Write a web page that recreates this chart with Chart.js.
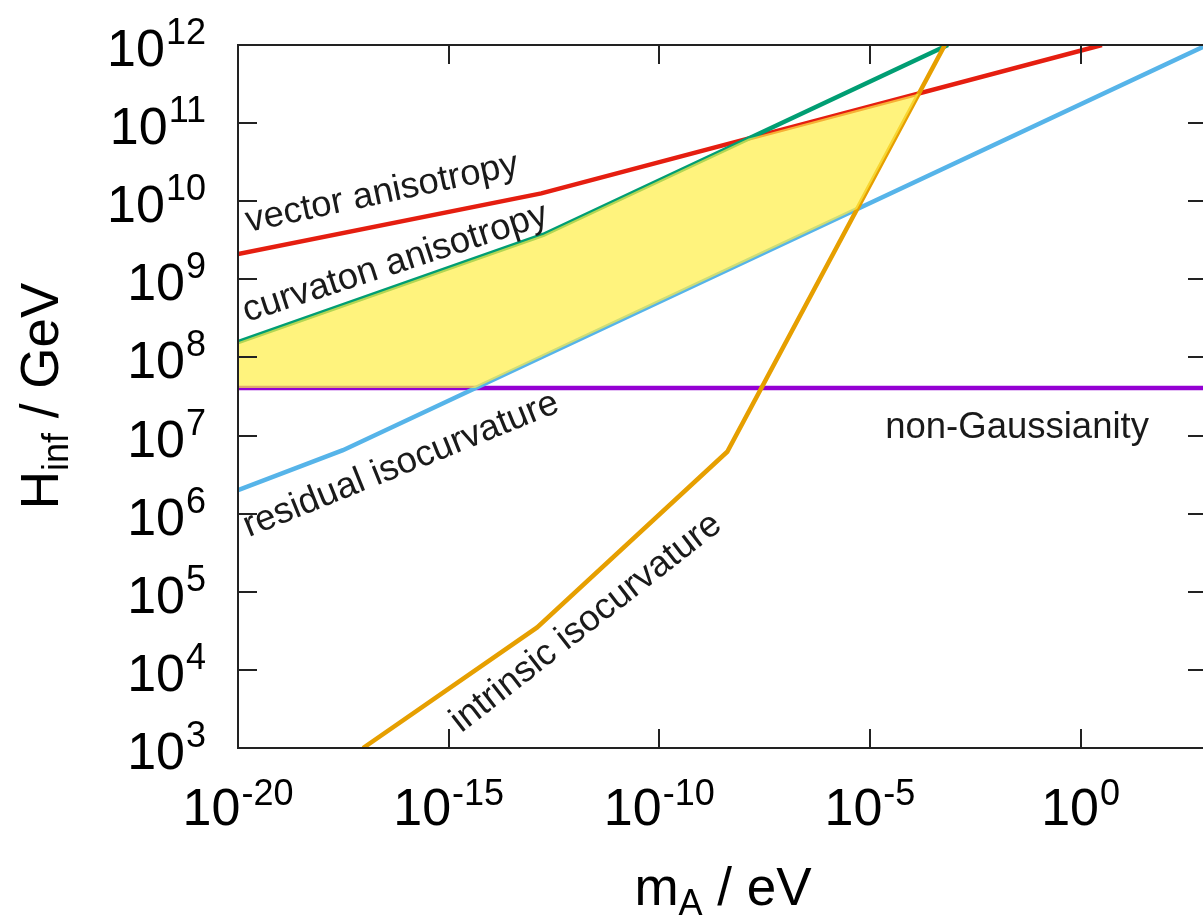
<!DOCTYPE html>
<html>
<head>
<meta charset="utf-8">
<script src="https://cdn.jsdelivr.net/npm/chart.js@4.4.1/dist/chart.umd.min.js"></script>
<style>
  html, body { margin: 0; padding: 0; background: #fff; overflow: hidden; }
  #wrap { width: 1207px; height: 916px; }
</style>
</head>
<body>
<div id="wrap"><canvas id="chart" width="1207" height="916"></canvas></div>
<script>
// values (m_A in eV, H_inf in GeV)
const vectorM = [1e-20, 1.58e-13, 3.2];
const vectorH = [2.1e9, 1.26e10, 1e12];
const curvatonM = [1e-20, 1.74e-13, 7.1e-4];
const curvatonH = [1.57e8, 3.7e9, 1e12];
const residualM = [1e-20, 3.1e-18, 1e3];
const residualH = [2.0e6, 6.5e6, 1e12];
const nonGaussM = [1e-20, 1e3];
const nonGaussH = [4.05e7, 4.05e7];
const intrinsicM = [9.3e-18, 1.26e-13, 4.1e-9, 6.0e-4];
const intrinsicH = [1e3, 3.5e4, 6.2e6, 1e12];

const xTickExps = [-20, -15, -10, -5, 0];
const yTickExps = [3, 4, 5, 6, 7, 8, 9, 10, 11, 12];

const colors = {
    vector: '#e51e10',
    curvaton: '#009e73',
    residual: '#56b4e9',
    nonGauss: '#9400d3',
    intrinsic: '#e69f00',
    fill: 'rgba(255, 238, 70, 0.7)',
    ink: '#1a1a1a',
};

const FONT = '"Liberation Sans", Arial, Helvetica, sans-serif';

function points(ms, hs) {
    return ms.map((m, i) => ({ x: m, y: hs[i] }));
}

// allowed region: below vector & curvaton, above residual, non-Gaussianity and intrinsic
function logPts(ms, hs) {
    return ms.map((m, i) => ({ lx: Math.log10(m), ly: Math.log10(hs[i]) }));
}

function valueAt(pts, lx, outside) {
    if (lx < pts[0].lx - 1e-12 || lx > pts[pts.length - 1].lx + 1e-12) return outside;
    for (let i = 1; i < pts.length; i++) {
        if (lx <= pts[i].lx + 1e-12) {
            const a = pts[i - 1], b = pts[i];
            return a.ly + (b.ly - a.ly) * (lx - a.lx) / (b.lx - a.lx);
        }
    }
    return outside;
}

function allowedRegion() {
    const upper = [logPts(vectorM, vectorH), logPts(curvatonM, curvatonH)];
    const lower = [logPts(residualM, residualH), logPts(nonGaussM, nonGaussH), logPts(intrinsicM, intrinsicH)];
    const fns = [
        ...upper.map((p) => (lx) => valueAt(p, lx, Infinity)),
        ...lower.map((p) => (lx) => valueAt(p, lx, -Infinity)),
    ];
    const U = (lx) => Math.min(...upper.map((p) => valueAt(p, lx, Infinity)));
    const L = (lx) => Math.max(...lower.map((p) => valueAt(p, lx, -Infinity)));

    const x0 = Math.log10(nonGaussM[0]);
    const x1 = Math.log10(nonGaussM[1]);
    let knots = [...upper, ...lower].flat().map((p) => p.lx).filter((v) => v >= x0 && v <= x1);
    knots = [...new Set(knots)].sort((a, b) => a - b);

    const xs = [...knots];
    for (let k = 1; k < knots.length; k++) {
        const a = knots[k - 1], b = knots[k];
        for (let i = 0; i < fns.length; i++) {
            for (let j = i + 1; j < fns.length; j++) {
                const da = fns[i](a) - fns[j](a);
                const db = fns[i](b) - fns[j](b);
                if (isFinite(da) && isFinite(db) && da * db < 0) {
                    xs.push(a + (b - a) * da / (da - db));
                }
            }
        }
    }
    xs.sort((a, b) => a - b);

    // contiguous run from the left edge while the band is open
    const keep = [];
    for (const lx of xs) {
        if (U(lx) >= L(lx) - 1e-9) keep.push(lx);
        else break;
    }
    const top = keep.map((lx) => ({ x: 10 ** lx, y: 10 ** U(lx) }));
    const bottom = keep.slice().reverse().map((lx) => ({ x: 10 ** lx, y: 10 ** L(lx) }));
    return top.concat(bottom);
}

function lineSet(label, ms, hs, color, order) {
    return {
        label,
        data: points(ms, hs),
        showLine: true,
        borderColor: color,
        borderWidth: 4.5,
        pointRadius: 0,
        fill: false,
        order,
    };
}

// text labels sit in data coordinates: [text, m, H, angle in degrees]
const curveLabels = [
    ['vector anisotropy', 1.74e-20, 4.04e9, -12],
    ['curvaton anisotropy', 1.62e-20, 2.84e8, -18],
    ['residual isocurvature', 1.8e-20, 5.0e5, -22],
    ['intrinsic isocurvature', 2.0e-15, 1.55e3, -38],
    ['non-Gaussianity', 2.3e-5, 9.3e6, 0],
];

function drawPow(ctx, exp, x, y, align, baseDy, supDy) {
    const big = `52px ${FONT}`;
    const small = `36px ${FONT}`;
    ctx.font = big;
    const w1 = ctx.measureText('10').width;
    ctx.font = small;
    const w2 = ctx.measureText(exp).width;
    const total = w1 + 1 + w2;
    const start = align === 'right' ? x - total : x - total / 2;
    ctx.textAlign = 'left';
    ctx.textBaseline = 'alphabetic';
    ctx.font = big;
    ctx.fillText('10', start, y + baseDy);
    ctx.font = small;
    ctx.fillText(exp, start + w1 + 1, y + supDy);
}

function drawSub(ctx, parts, cx, cy) {
    // parts: [text, size, dy]
    let total = 0;
    parts.forEach(([t, s]) => { ctx.font = `${s}px ${FONT}`; total += ctx.measureText(t).width; });
    let x = cx - total / 2;
    parts.forEach(([t, s, dy]) => {
        ctx.font = `${s}px ${FONT}`;
        ctx.fillText(t, x, cy + dy);
        x += ctx.measureText(t).width;
    });
}

const decorations = {
    id: 'decorations',
    afterDatasetsDraw(chart) {
        const { ctx, chartArea: a, scales: { x, y } } = chart;
        ctx.save();

        // in-plot labels
        ctx.fillStyle = colors.ink;
        ctx.font = `36.5px ${FONT}`;
        ctx.textAlign = 'left';
        ctx.textBaseline = 'alphabetic';
        curveLabels.forEach(([text, m, h, ang]) => {
            ctx.save();
            ctx.translate(x.getPixelForValue(m), y.getPixelForValue(h));
            ctx.rotate(ang * Math.PI / 180);
            ctx.fillText(text, 0, 0);
            ctx.restore();
        });

        // frame and inward ticks
        ctx.strokeStyle = '#222';
        ctx.lineWidth = 2;
        ctx.strokeRect(a.left, a.top, a.right - a.left, a.bottom - a.top);
        const tl = 19;
        ctx.beginPath();
        xTickExps.forEach((e) => {
            const px = Math.round(x.getPixelForValue(10 ** e));
            ctx.moveTo(px, a.bottom); ctx.lineTo(px, a.bottom - tl);
            ctx.moveTo(px, a.top); ctx.lineTo(px, a.top + tl);
        });
        yTickExps.forEach((e) => {
            const py = Math.round(y.getPixelForValue(10 ** e));
            ctx.moveTo(a.left, py); ctx.lineTo(a.left + tl, py);
            ctx.moveTo(a.right, py); ctx.lineTo(a.right - tl, py);
        });
        ctx.stroke();

        // tick labels
        ctx.fillStyle = '#000';
        yTickExps.forEach((e) => {
            drawPow(ctx, String(e), 206, y.getPixelForValue(10 ** e), 'right', 21, -1);
        });
        xTickExps.forEach((e) => {
            drawPow(ctx, String(e), x.getPixelForValue(10 ** e), 825, 'center', 0, -20);
        });

        // axis titles
        ctx.textAlign = 'left';
        drawSub(ctx, [['m', 53, 0], ['A', 36, 10], [' / eV', 53, 0]], 723, 905);
        ctx.save();
        ctx.translate(58, 396);
        ctx.rotate(-Math.PI / 2);
        drawSub(ctx, [['H', 53, 0], ['inf', 36, 10], [' / GeV', 53, 0]], 0, 0);
        ctx.restore();

        ctx.restore();
    },
};

new Chart(document.getElementById('chart'), {
    type: 'scatter',
    data: {
        datasets: [
            lineSet('non-Gaussianity', nonGaussM, nonGaussH, colors.nonGauss, 5),
            lineSet('vector anisotropy', vectorM, vectorH, colors.vector, 4),
            lineSet('curvaton anisotropy', curvatonM, curvatonH, colors.curvaton, 3),
            lineSet('residual isocurvature', residualM, residualH, colors.residual, 2),
            lineSet('intrinsic isocurvature', intrinsicM, intrinsicH, colors.intrinsic, 1),
            {
                label: 'allowed',
                data: allowedRegion(),
                showLine: true,
                fill: 'shape',
                backgroundColor: colors.fill,
                borderColor: 'rgba(0,0,0,0)',
                borderWidth: 1,
                pointRadius: 0,
                order: 0,
            },
        ],
    },
    options: {
        responsive: false,
        animation: false,
        layout: { padding: { left: 238, top: 45, right: 0, bottom: 168 } },
        plugins: {
            legend: { display: false },
            tooltip: { enabled: false },
        },
        scales: {
            x: { type: 'logarithmic', min: 1e-20, max: 1e3, display: false },
            y: { type: 'logarithmic', min: 1e3, max: 1e12, display: false },
        },
    },
    plugins: [decorations],
});
</script>
</body>
</html>
